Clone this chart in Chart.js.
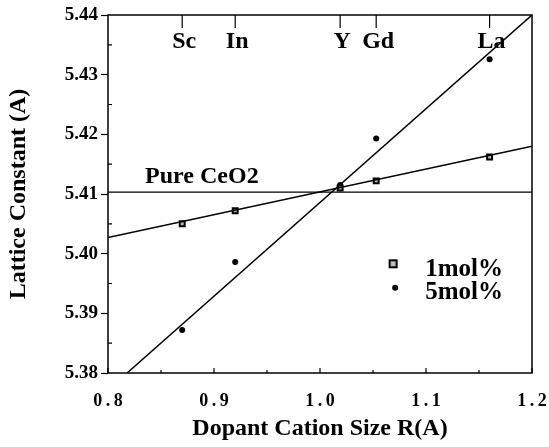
<!DOCTYPE html>
<html>
<head>
<meta charset="utf-8">
<script src="https://cdn.jsdelivr.net/npm/chart.js@4.4.0/dist/chart.umd.min.js"></script>
<style>
  body { margin: 0; background: #fff; }
  #wrap { width: 549px; height: 447px; }
</style>
</head>
<body>
<div id="wrap"><canvas id="chart" width="549" height="447"></canvas></div>
<script>
// Dopant cations and their ionic radii
const elements = ['Sc', 'In', 'Y', 'Gd', 'La'];
const radii = [0.87, 0.92, 1.019, 1.053, 1.16];

// Measured lattice constants
const lattice1mol = [5.405, 5.4072, 5.411, 5.4122, 5.4162];
const lattice5mol = [5.3872, 5.3986, 5.4115, 5.4193, 5.4326];

// Fitted lines (end points)
const fit1molX = [0.8, 1.2];
const fit1molY = [5.4027, 5.4180];
const fit5molX = [0.818, 1.2];
const fit5molY = [5.38, 5.44];
const pureCeO2 = 5.4103;

const xTicks = [0.8, 0.9, 1.0, 1.1, 1.2];
const yTicks = [5.38, 5.39, 5.40, 5.41, 5.42, 5.43, 5.44];

const serif = "'Liberation Serif', 'DejaVu Serif', serif";

const toPoints = (xs, ys) => xs.map((v, i) => ({ x: v, y: ys[i] }));

const decorations = {
    id: 'decorations',
    afterDraw(chart) {
        const { ctx, chartArea: a, scales: { x, y } } = chart;
        ctx.save();
        ctx.strokeStyle = '#000';
        ctx.lineWidth = 1.5;
        ctx.strokeRect(a.left, a.top, a.right - a.left, a.bottom - a.top);

        // small inward ticks between the labelled ones
        ctx.lineWidth = 1.2;
        ctx.beginPath();
        for (let i = 0; i < yTicks.length - 1; i++) {
            const py = y.getPixelForValue((yTicks[i] + yTicks[i + 1]) / 2);
            ctx.moveTo(a.left, py);
            ctx.lineTo(a.left + 4, py);
        }
        for (let i = 0; i < xTicks.length; i++) {
            const px = x.getPixelForValue(xTicks[i]);
            ctx.moveTo(px, a.bottom);
            ctx.lineTo(px, a.bottom - 5);
            if (i < xTicks.length - 1) {
                const mx = x.getPixelForValue((xTicks[i] + xTicks[i + 1]) / 2);
                ctx.moveTo(mx, a.bottom);
                ctx.lineTo(mx, a.bottom - 3);
            }
        }
        // element markers on the top edge
        radii.forEach(r => {
            const px = x.getPixelForValue(r);
            ctx.moveTo(px, a.top);
            ctx.lineTo(px, a.top + 13);
        });
        ctx.stroke();

        ctx.fillStyle = '#000';
        ctx.font = 'bold 24px ' + serif;
        ctx.textAlign = 'center';
        ctx.textBaseline = 'alphabetic';
        elements.forEach((el, i) => {
            const px = x.getPixelForValue(radii[i]);
            ctx.fillText(el, px + 2, a.top + 33);
        });

        // Pure CeO2 label
        ctx.textAlign = 'left';
        ctx.fillText('Pure CeO2', x.getPixelForValue(0.835), y.getPixelForValue(pureCeO2) - 9);

        // legend
        const lx = x.getPixelForValue(1.069);
        const ly = y.getPixelForValue(5.3983);
        ctx.fillStyle = '#bbb';
        ctx.lineWidth = 2;
        ctx.fillRect(lx - 3.5, ly - 3.5, 7, 7);
        ctx.strokeRect(lx - 3.5, ly - 3.5, 7, 7);
        ctx.fillStyle = '#000';
        ctx.beginPath();
        ctx.arc(lx + 2, ly + 24, 3, 0, Math.PI * 2);
        ctx.fill();
        ctx.font = 'bold 25px ' + serif;
        ctx.fillText('1mol%', lx + 32, ly + 12);
        ctx.fillText('5mol%', lx + 32, ly + 35);
        ctx.restore();
    }
};

new Chart(document.getElementById('chart'), {
    type: 'scatter',
    data: {
        datasets: [
            {
                label: 'Pure CeO2',
                data: toPoints(fit1molX, [pureCeO2, pureCeO2]),
                showLine: true,
                borderColor: '#000',
                borderWidth: 1.3,
                pointRadius: 0
            },
            {
                label: 'fit 1mol%',
                data: toPoints(fit1molX, fit1molY),
                showLine: true,
                borderColor: '#000',
                borderWidth: 1.5,
                pointRadius: 0
            },
            {
                label: 'fit 5mol%',
                data: toPoints(fit5molX, fit5molY),
                showLine: true,
                borderColor: '#000',
                borderWidth: 1.5,
                pointRadius: 0
            },
            {
                label: '1mol%',
                data: toPoints(radii, lattice1mol),
                pointStyle: 'rect',
                pointRadius: 3.5,
                backgroundColor: '#bbb',
                borderColor: '#000',
                borderWidth: 2
            },
            {
                label: '5mol%',
                data: toPoints(radii, lattice5mol),
                pointStyle: 'circle',
                pointRadius: 3,
                backgroundColor: '#000',
                borderColor: '#000',
                borderWidth: 0
            }
        ]
    },
    options: {
        responsive: false,
        animation: false,
        layout: { padding: { top: 15, right: 17, left: 0, bottom: 0 } },
        plugins: {
            legend: { display: false },
            tooltip: { enabled: false }
        },
        scales: {
            x: {
                min: 0.8,
                max: 1.2,
                afterBuildTicks: s => { s.ticks = xTicks.map(v => ({ value: v })); },
                afterFit: s => { s.height = 74; s.paddingLeft = 0; s.paddingRight = 0; },
                grid: { drawOnChartArea: false, drawTicks: false },
                border: { display: false },
                ticks: {
                    color: '#000',
                    padding: 18,
                    font: { family: serif, size: 18, weight: 'bold' },
                    callback: v => v.toFixed(1).split('').join('\u2009')
                },
                title: {
                    display: true,
                    text: 'Dopant Cation Size R(A)',
                    color: '#000',
                    font: { family: serif, size: 24, weight: 'bold' },
                    padding: { top: 7 }
                }
            },
            y: {
                min: 5.38,
                max: 5.44,
                afterBuildTicks: s => { s.ticks = yTicks.map(v => ({ value: v })); },
                afterFit: s => { s.width = 108; s.paddingTop = 0; s.paddingBottom = 0; },
                grid: { drawOnChartArea: false, tickLength: 7, color: '#000', tickWidth: 1.2 },
                border: { display: false },
                ticks: {
                    color: '#000',
                    padding: 3,
                    font: { family: serif, size: 19, weight: 'bold' },
                    callback: v => v.toFixed(2)
                },
                title: {
                    display: true,
                    text: 'Lattice Constant (A)',
                    color: '#000',
                    font: { family: serif, size: 24, weight: 'bold' },
                    padding: { bottom: 4 }
                }
            }
        }
    },
    plugins: [decorations]
});
</script>
</body>
</html>
